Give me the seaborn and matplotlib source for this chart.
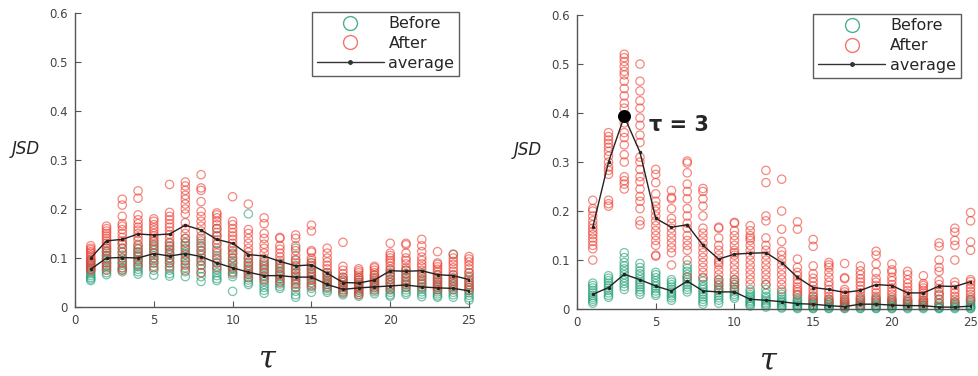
import numpy as np
import pandas as pd
import seaborn as sns
import matplotlib
matplotlib.use("Agg")
import matplotlib.pyplot as plt
from matplotlib.lines import Line2D

taus = list(range(1, 26))

# ---- left panel: JSD samples per tau ----
left_before = [
    [0.095, 0.09, 0.085, 0.08, 0.076, 0.072, 0.068, 0.064, 0.06, 0.057, 0.054],
    [0.12, 0.115, 0.11, 0.105, 0.1, 0.095, 0.09, 0.085, 0.08, 0.075, 0.07, 0.066],
    [0.13, 0.12, 0.112, 0.106, 0.1, 0.095, 0.09, 0.085, 0.08, 0.076, 0.072],
    [0.125, 0.118, 0.112, 0.107, 0.102, 0.097, 0.092, 0.087, 0.082, 0.077, 0.072, 0.067],
    [0.135, 0.128, 0.122, 0.116, 0.11, 0.105, 0.1, 0.095, 0.09, 0.083, 0.075, 0.065],
    [0.13, 0.123, 0.117, 0.111, 0.106, 0.1, 0.095, 0.09, 0.083, 0.075, 0.068, 0.063],
    [0.14, 0.132, 0.125, 0.118, 0.112, 0.106, 0.1, 0.094, 0.088, 0.08, 0.072, 0.062],
    [0.14, 0.13, 0.122, 0.115, 0.108, 0.1, 0.093, 0.086, 0.078, 0.07, 0.062, 0.052],
    [0.16, 0.145, 0.13, 0.115, 0.105, 0.097, 0.09, 0.083, 0.076, 0.07, 0.064, 0.058, 0.054],
    [0.12, 0.11, 0.1, 0.094, 0.088, 0.082, 0.077, 0.072, 0.067, 0.062, 0.032],
    [0.19, 0.1, 0.092, 0.085, 0.078, 0.072, 0.066, 0.06, 0.055, 0.05, 0.046],
    [0.095, 0.088, 0.082, 0.076, 0.07, 0.064, 0.058, 0.052, 0.046, 0.04, 0.034, 0.028],
    [0.09, 0.084, 0.078, 0.072, 0.067, 0.062, 0.057, 0.052, 0.047, 0.042, 0.038],
    [0.12, 0.095, 0.085, 0.077, 0.07, 0.064, 0.058, 0.052, 0.046, 0.04, 0.032, 0.025, 0.02],
    [0.09, 0.085, 0.078, 0.072, 0.066, 0.06, 0.055, 0.05, 0.044, 0.038, 0.03],
    [0.07, 0.065, 0.06, 0.055, 0.05, 0.046, 0.042, 0.038, 0.034, 0.03],
    [0.06, 0.055, 0.05, 0.045, 0.04, 0.036, 0.032, 0.028, 0.025],
    [0.06, 0.055, 0.05, 0.046, 0.042, 0.038, 0.034, 0.03, 0.026, 0.022],
    [0.065, 0.058, 0.052, 0.047, 0.043, 0.039, 0.035, 0.031, 0.027],
    [0.075, 0.068, 0.062, 0.056, 0.05, 0.045, 0.04, 0.035, 0.03, 0.025, 0.022],
    [0.075, 0.068, 0.062, 0.056, 0.05, 0.045, 0.04, 0.035, 0.03, 0.026],
    [0.07, 0.063, 0.057, 0.051, 0.046, 0.041, 0.036, 0.031, 0.026, 0.021],
    [0.065, 0.058, 0.052, 0.046, 0.041, 0.036, 0.031, 0.027, 0.023, 0.02],
    [0.108, 0.065, 0.058, 0.052, 0.046, 0.04, 0.035, 0.03, 0.025, 0.02],
    [0.07, 0.06, 0.052, 0.045, 0.039, 0.034, 0.029, 0.024, 0.019, 0.014],
]
left_after = [
    [0.125, 0.12, 0.117, 0.113, 0.11, 0.106, 0.102, 0.098, 0.094, 0.09, 0.086, 0.082, 0.078, 0.075],
    [0.165, 0.16, 0.155, 0.15, 0.145, 0.14, 0.135, 0.13, 0.125, 0.12, 0.113, 0.105, 0.098, 0.09, 0.083, 0.076],
    [0.22, 0.208, 0.185, 0.17, 0.165, 0.158, 0.15, 0.142, 0.135, 0.128, 0.12, 0.112, 0.1, 0.09, 0.08, 0.075],
    [0.237, 0.222, 0.188, 0.178, 0.17, 0.163, 0.157, 0.15, 0.143, 0.136, 0.128, 0.12, 0.112, 0.104, 0.095, 0.085],
    [0.18, 0.175, 0.168, 0.162, 0.156, 0.15, 0.145, 0.14, 0.133, 0.126, 0.118, 0.11, 0.1, 0.09, 0.08],
    [0.25, 0.193, 0.185, 0.178, 0.17, 0.163, 0.155, 0.148, 0.14, 0.132, 0.125, 0.118, 0.11, 0.1, 0.09, 0.08],
    [0.255, 0.247, 0.238, 0.228, 0.22, 0.21, 0.2, 0.19, 0.172, 0.16, 0.15, 0.14, 0.13, 0.12, 0.108, 0.095, 0.085, 0.075],
    [0.27, 0.243, 0.238, 0.215, 0.195, 0.185, 0.175, 0.165, 0.155, 0.145, 0.135, 0.125, 0.115, 0.105, 0.095, 0.085, 0.07],
    [0.192, 0.188, 0.182, 0.175, 0.168, 0.16, 0.152, 0.145, 0.137, 0.128, 0.12, 0.11, 0.1, 0.09, 0.08],
    [0.225, 0.175, 0.168, 0.16, 0.152, 0.145, 0.138, 0.13, 0.122, 0.115, 0.108, 0.1, 0.09, 0.08, 0.07],
    [0.21, 0.158, 0.15, 0.14, 0.13, 0.12, 0.112, 0.105, 0.098, 0.09, 0.082, 0.075, 0.068, 0.06],
    [0.182, 0.17, 0.15, 0.14, 0.128, 0.12, 0.11, 0.1, 0.092, 0.085, 0.078, 0.07, 0.062, 0.055],
    [0.142, 0.14, 0.125, 0.118, 0.11, 0.102, 0.095, 0.088, 0.08, 0.072, 0.065, 0.058, 0.05],
    [0.147, 0.14, 0.125, 0.115, 0.105, 0.097, 0.09, 0.083, 0.076, 0.069, 0.062, 0.055, 0.048, 0.04],
    [0.167, 0.155, 0.115, 0.112, 0.1, 0.095, 0.09, 0.083, 0.077, 0.07, 0.063, 0.056, 0.048, 0.042],
    [0.12, 0.11, 0.1, 0.092, 0.085, 0.078, 0.07, 0.064, 0.058, 0.052, 0.046, 0.04],
    [0.132, 0.083, 0.075, 0.068, 0.061, 0.055, 0.05, 0.045, 0.04, 0.035, 0.03],
    [0.078, 0.074, 0.07, 0.065, 0.06, 0.055, 0.05, 0.045, 0.04, 0.035, 0.03, 0.025],
    [0.083, 0.08, 0.075, 0.07, 0.065, 0.06, 0.055, 0.05, 0.045, 0.04, 0.035],
    [0.13, 0.11, 0.105, 0.1, 0.095, 0.09, 0.083, 0.077, 0.07, 0.063, 0.056, 0.05, 0.043, 0.036],
    [0.13, 0.127, 0.11, 0.1, 0.095, 0.088, 0.08, 0.075, 0.068, 0.06, 0.053, 0.047, 0.04],
    [0.138, 0.125, 0.113, 0.102, 0.095, 0.088, 0.082, 0.075, 0.068, 0.062, 0.055, 0.048, 0.04],
    [0.113, 0.09, 0.087, 0.082, 0.077, 0.072, 0.066, 0.06, 0.055, 0.05, 0.045, 0.04, 0.035],
    [0.107, 0.1, 0.093, 0.087, 0.08, 0.073, 0.066, 0.06, 0.054, 0.048, 0.042, 0.036],
    [0.103, 0.098, 0.092, 0.085, 0.078, 0.07, 0.063, 0.056, 0.05, 0.045, 0.04, 0.034],
]
left_avg_before = [0.077, 0.100, 0.101, 0.100, 0.109, 0.104, 0.109, 0.103, 0.090, 0.080,
                   0.071, 0.064, 0.064, 0.061, 0.061, 0.046, 0.036, 0.039, 0.041, 0.043,
                   0.045, 0.041, 0.039, 0.038, 0.033]
left_avg_after = [0.100, 0.135, 0.138, 0.149, 0.147, 0.149, 0.167, 0.157, 0.138, 0.130,
                  0.107, 0.104, 0.093, 0.084, 0.086, 0.069, 0.050, 0.049, 0.055, 0.074,
                  0.073, 0.074, 0.066, 0.064, 0.056]

# ---- right panel: JSD samples per tau ----
right_before = [
    [0.053, 0.048, 0.043, 0.038, 0.033, 0.028, 0.024, 0.02, 0.016, 0.012],
    [0.068, 0.063, 0.058, 0.053, 0.048, 0.043, 0.038, 0.033, 0.028, 0.024],
    [0.115, 0.105, 0.095, 0.088, 0.082, 0.076, 0.07, 0.064, 0.058, 0.052, 0.046, 0.04],
    [0.093, 0.085, 0.078, 0.072, 0.066, 0.06, 0.055, 0.05, 0.045, 0.04, 0.035, 0.03],
    [0.075, 0.07, 0.064, 0.058, 0.052, 0.047, 0.042, 0.037, 0.032, 0.028],
    [0.06, 0.055, 0.05, 0.045, 0.04, 0.035, 0.031, 0.027, 0.023, 0.018],
    [0.09, 0.083, 0.077, 0.071, 0.065, 0.06, 0.055, 0.05, 0.045, 0.04, 0.035],
    [0.063, 0.057, 0.05, 0.045, 0.04, 0.035, 0.03, 0.025, 0.02, 0.015, 0.01],
    [0.06, 0.054, 0.048, 0.043, 0.038, 0.033, 0.028, 0.023, 0.018, 0.012],
    [0.06, 0.055, 0.05, 0.045, 0.04, 0.035, 0.03, 0.026, 0.022],
    [0.04, 0.035, 0.03, 0.026, 0.022, 0.018, 0.015, 0.012, 0.009, 0.006],
    [0.05, 0.04, 0.032, 0.026, 0.021, 0.017, 0.013, 0.01, 0.007, 0.004],
    [0.035, 0.03, 0.025, 0.02, 0.016, 0.013, 0.01, 0.007, 0.004, 0.002],
    [0.028, 0.022, 0.018, 0.015, 0.012, 0.009, 0.007, 0.005, 0.003, 0.001],
    [0.025, 0.02, 0.016, 0.013, 0.01, 0.008, 0.006, 0.004, 0.002, 0.001],
    [0.02, 0.016, 0.013, 0.01, 0.008, 0.006, 0.004, 0.002, 0.001],
    [0.018, 0.014, 0.011, 0.008, 0.006, 0.004, 0.002, 0.001],
    [0.022, 0.018, 0.014, 0.011, 0.008, 0.006, 0.004, 0.002, 0.001],
    [0.022, 0.018, 0.014, 0.011, 0.008, 0.006, 0.004, 0.002, 0.001],
    [0.02, 0.016, 0.013, 0.01, 0.008, 0.006, 0.004, 0.002, 0.001],
    [0.018, 0.015, 0.012, 0.009, 0.007, 0.005, 0.003, 0.001],
    [0.018, 0.015, 0.012, 0.009, 0.007, 0.005, 0.003, 0.001],
    [0.03, 0.02, 0.012, 0.008, 0.005, 0.003, 0.002, 0.001],
    [0.015, 0.012, 0.009, 0.007, 0.005, 0.003, 0.001],
    [0.02, 0.016, 0.012, 0.009, 0.006, 0.004, 0.002, 0.001],
]
right_after = [
    [0.222, 0.205, 0.2, 0.19, 0.18, 0.172, 0.165, 0.158, 0.152, 0.145, 0.138, 0.13, 0.123, 0.1],
    [0.36, 0.352, 0.345, 0.338, 0.33, 0.322, 0.312, 0.3, 0.29, 0.283, 0.275, 0.222, 0.215, 0.21],
    [0.52, 0.513, 0.505, 0.495, 0.485, 0.478, 0.465, 0.45, 0.435, 0.42, 0.41, 0.38, 0.36,
     0.35, 0.335, 0.315, 0.3, 0.27, 0.262, 0.255, 0.245],
    [0.5, 0.465, 0.445, 0.425, 0.41, 0.39, 0.375, 0.355, 0.34, 0.31, 0.3, 0.285, 0.27, 0.26,
     0.245, 0.23, 0.22, 0.205, 0.18, 0.172],
    [0.285, 0.275, 0.258, 0.235, 0.22, 0.21, 0.2, 0.19, 0.18, 0.17, 0.16, 0.15, 0.14, 0.13, 0.11, 0.108],
    [0.242, 0.228, 0.225, 0.205, 0.185, 0.175, 0.165, 0.155, 0.145, 0.135, 0.125, 0.115, 0.09],
    [0.302, 0.298, 0.278, 0.255, 0.24, 0.225, 0.205, 0.19, 0.175, 0.165, 0.15, 0.14, 0.13, 0.12, 0.1, 0.065],
    [0.246, 0.24, 0.225, 0.21, 0.19, 0.165, 0.155, 0.145, 0.135, 0.125, 0.115, 0.105, 0.095, 0.085, 0.075, 0.065],
    [0.167, 0.165, 0.145, 0.13, 0.12, 0.11, 0.1, 0.095, 0.09, 0.08, 0.07, 0.06, 0.05, 0.04],
    [0.177, 0.175, 0.16, 0.15, 0.14, 0.13, 0.12, 0.115, 0.11, 0.1, 0.09, 0.08, 0.07, 0.06, 0.05, 0.04],
    [0.17, 0.16, 0.15, 0.145, 0.14, 0.13, 0.12, 0.11, 0.1, 0.09, 0.08, 0.07, 0.06, 0.05],
    [0.283, 0.258, 0.19, 0.18, 0.145, 0.13, 0.12, 0.11, 0.1, 0.09, 0.08, 0.07, 0.06, 0.05],
    [0.265, 0.2, 0.163, 0.138, 0.118, 0.11, 0.1, 0.09, 0.08, 0.07, 0.06, 0.05, 0.04],
    [0.178, 0.163, 0.102, 0.085, 0.075, 0.068, 0.06, 0.052, 0.045, 0.04, 0.035, 0.03],
    [0.142, 0.128, 0.088, 0.072, 0.063, 0.055, 0.047, 0.04, 0.033, 0.027, 0.02, 0.014],
    [0.095, 0.09, 0.085, 0.075, 0.065, 0.055, 0.048, 0.04, 0.033, 0.026, 0.02, 0.014],
    [0.093, 0.064, 0.062, 0.04, 0.035, 0.03, 0.025, 0.02, 0.015, 0.01, 0.005],
    [0.088, 0.078, 0.07, 0.062, 0.055, 0.048, 0.04, 0.033, 0.026, 0.02, 0.014, 0.008],
    [0.118, 0.11, 0.092, 0.075, 0.062, 0.055, 0.048, 0.04, 0.033, 0.026, 0.02, 0.014],
    [0.092, 0.08, 0.075, 0.065, 0.058, 0.05, 0.043, 0.036, 0.03, 0.024, 0.018, 0.012],
    [0.077, 0.07, 0.06, 0.052, 0.045, 0.038, 0.032, 0.026, 0.02, 0.015, 0.01],
    [0.068, 0.052, 0.048, 0.043, 0.038, 0.033, 0.028, 0.023, 0.018, 0.013, 0.008],
    [0.135, 0.128, 0.1, 0.085, 0.077, 0.058, 0.05, 0.042, 0.035, 0.028, 0.02, 0.012],
    [0.165, 0.157, 0.14, 0.13, 0.1, 0.055, 0.048, 0.04, 0.033, 0.026, 0.02, 0.013],
    [0.197, 0.18, 0.137, 0.12, 0.06, 0.056, 0.05, 0.043, 0.036, 0.03, 0.024, 0.018],
]
right_avg_before = [0.030, 0.044, 0.071, 0.060, 0.047, 0.037, 0.057, 0.037, 0.035, 0.035,
                    0.020, 0.018, 0.015, 0.011, 0.010, 0.007, 0.005, 0.010, 0.010, 0.008,
                    0.007, 0.007, 0.004, 0.004, 0.006]
right_avg_after = [0.167, 0.300, 0.393, 0.320, 0.185, 0.167, 0.172, 0.130, 0.102, 0.112,
                   0.114, 0.115, 0.095, 0.065, 0.044, 0.040, 0.034, 0.038, 0.050, 0.048,
                   0.033, 0.033, 0.047, 0.046, 0.056]

peak_tau = 3
peak_label = "τ = 3"

GREEN = "#1f9e74"
RED = "#ee3b2f"


def samples_table(groups):
    rows = [(t, v) for t, vals in zip(taus, groups) for v in vals]
    return pd.DataFrame(rows, columns=["tau", "JSD"])


def avg_table(avg_b, avg_a):
    return pd.DataFrame({"tau": taus * 2, "JSD": avg_b + avg_a,
                         "line": ["b"] * len(taus) + ["a"] * len(taus)})


sns.set_theme(style="white")
plt.rcParams["font.family"] = ["DejaVu Sans"]

fig = plt.figure(figsize=(9.79, 3.76), dpi=100)
ax1 = fig.add_axes([0.0766, 0.1835, 0.4025, 0.782])
ax2 = fig.add_axes([0.5894, 0.178, 0.4020, 0.782])

panels = [
    (ax1, left_before, left_after, left_avg_before, left_avg_after),
    (ax2, right_before, right_after, right_avg_before, right_avg_after),
]

for ax, b, a, ab, aa in panels:
    for groups, col in ((b, GREEN), (a, RED)):
        n_before = len(ax.collections)
        sns.scatterplot(data=samples_table(groups), x="tau", y="JSD",
                        marker="o", s=36, legend=False, ax=ax, clip_on=False)
        coll = ax.collections[n_before]
        coll.set_facecolor("none")
        coll.set_edgecolor(col)
        coll.set_linewidth(0.9)
        coll.set_alpha(0.6)
    sns.lineplot(data=avg_table(ab, aa), x="tau", y="JSD", units="line",
                 estimator=None, color="#222222", linewidth=1.0, marker="o",
                 markersize=2.5, markeredgewidth=0, ax=ax, legend=False)

    ax.set_xlim(0, 25)
    ax.set_ylim(0, 0.6)
    ax.set_xticks([0, 5, 10, 15, 20, 25])
    ax.set_yticks([0, 0.1, 0.2, 0.3, 0.4, 0.5, 0.6])
    ax.set_yticklabels(["0", "0.1", "0.2", "0.3", "0.4", "0.5", "0.6"])
    ax.tick_params(direction="in", length=4, width=0.8, colors="#555555",
                   labelsize=8.5, labelcolor="#444444", pad=5,
                   bottom=True, left=True)
    for side in ("top", "right"):
        ax.spines[side].set_visible(False)
    for side in ("left", "bottom"):
        ax.spines[side].set_color("#555555")
        ax.spines[side].set_linewidth(1.0)
    ax.set_xlabel("")
    ax.set_ylabel("")

    handles = [
        Line2D([], [], linestyle="none", marker="o", markersize=10,
               markerfacecolor="none", markeredgecolor=GREEN, alpha=0.8),
        Line2D([], [], linestyle="none", marker="o", markersize=10,
               markerfacecolor="none", markeredgecolor=RED, alpha=0.7),
        Line2D([], [], color="#333333", linewidth=1.0, marker="o",
               markersize=2.5),
    ]
    leg = ax.legend(handles, ["Before", "After", "average"], loc="upper right",
                    bbox_to_anchor=(0.975, 1.005), fontsize=11.5, frameon=True,
                    fancybox=False, handlelength=4.2, handletextpad=0.3,
                    borderpad=0.3, labelspacing=0.3, borderaxespad=0)
    leg.get_frame().set_edgecolor("#333333")
    leg.get_frame().set_linewidth(1.0)

# highlighted peak on the right panel
peak_val = right_avg_after[taus.index(peak_tau)]
ax2.scatter([peak_tau], [peak_val], s=70, color="black", zorder=5, clip_on=False)
ax2.text(peak_tau + 1.55, peak_val - 0.018, peak_label, fontsize=15,
         fontweight="bold", va="center", ha="left",
         family=["DejaVu Sans"])

# axis titles
fig.text(0.026, 0.605, "JSD", fontsize=12, style="italic", ha="center", va="center")
fig.text(0.539, 0.600, "JSD", fontsize=12, style="italic", ha="center", va="center")
fig.text(0.273, 0.045, "τ", fontsize=22, family=["DejaVu Serif"], style="italic",
         ha="center", va="center")
fig.text(0.785, 0.040, "τ", fontsize=22, family=["DejaVu Serif"], style="italic",
         ha="center", va="center")

fig.savefig("out.png", dpi=100)
